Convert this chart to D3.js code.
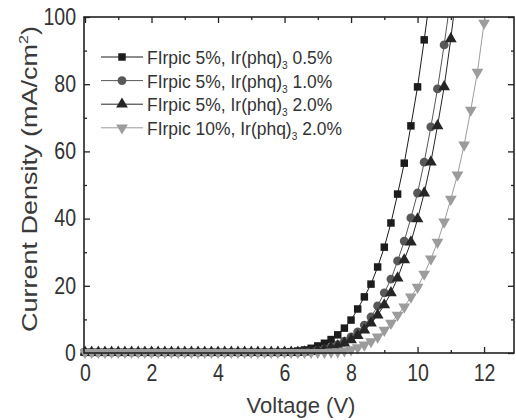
<!DOCTYPE html>
<html>
<head>
<meta charset="utf-8">
<script src="https://cdn.jsdelivr.net/npm/d3@7"></script>
<style>
  body { margin: 0; background: #fff; }
  text { font-family: "Liberation Sans", Arial, sans-serif; }
</style>
</head>
<body>
<div id="chart"></div>
<script>
// DATA ===========================================================================================
const voltage = [0, 0.2, 0.4, 0.6, 0.8, 1, 1.2, 1.4, 1.6, 1.8, 2, 2.2, 2.4, 2.6, 2.8, 3, 3.2, 3.4, 3.6, 3.8,
  4, 4.2, 4.4, 4.6, 4.8, 5, 5.2, 5.4, 5.6, 5.8, 6, 6.2, 6.4, 6.6, 6.8, 7, 7.2, 7.4, 7.6, 7.8,
  8, 8.2, 8.4, 8.6, 8.8, 9, 9.2, 9.4, 9.6, 9.8, 10, 10.2, 10.4, 10.6, 10.8, 11, 11.2, 11.4, 11.6, 11.8,
  12, 12.2]

// current density (mA/cm2), one value per voltage step
const ir05 = [0.2, 0.2, 0.2, 0.2, 0.2, 0.2, 0.2, 0.2, 0.2, 0.2, 0.2, 0.2, 0.2, 0.2, 0.2, 0.2, 0.2, 0.2, 0.2, 0.2,
  0.2, 0.2, 0.2, 0.2, 0.2, 0.2, 0.2, 0.2, 0.2, 0.2, 0.3, 0.4, 0.6, 0.9, 1.4, 2.1, 2.9, 4.0, 5.4, 7.4,
  9.8, 13.1, 16.7, 20.5, 25.6, 31.5, 38.7, 47.3, 56.5, 67.6, 79.2, 93.2, 108]
const ir10 = [0.2, 0.2, 0.2, 0.2, 0.2, 0.2, 0.2, 0.2, 0.2, 0.2, 0.2, 0.2, 0.2, 0.2, 0.2, 0.2, 0.2, 0.2, 0.2, 0.2,
  0.2, 0.2, 0.2, 0.2, 0.2, 0.2, 0.2, 0.2, 0.2, 0.2, 0.2, 0.2, 0.2, 0.35, 0.5, 0.8, 1.2, 1.8, 2.5, 3.5,
  4.8, 6.3, 8.3, 10.7, 14, 17.9, 22, 27.4, 33.3, 40.2, 47.6, 56.8, 67.3, 78.6, 91.7, 106]
const ir20 = [0.2, 0.2, 0.2, 0.2, 0.2, 0.2, 0.2, 0.2, 0.2, 0.2, 0.2, 0.2, 0.2, 0.2, 0.2, 0.2, 0.2, 0.2, 0.2, 0.2,
  0.2, 0.2, 0.2, 0.2, 0.2, 0.2, 0.2, 0.2, 0.2, 0.2, 0.2, 0.2, 0.2, 0.3, 0.45, 0.7, 1.0, 1.5, 2.1, 2.9,
  3.9, 5.2, 6.8, 8.9, 11.3, 14.3, 17.9, 22.3, 27.7, 33, 39.9, 47.6, 56.8, 67.6, 79.2, 93.5, 110]
const firpic10 = [0.2, 0.2, 0.2, 0.2, 0.2, 0.2, 0.2, 0.2, 0.2, 0.2, 0.2, 0.2, 0.2, 0.2, 0.2, 0.2, 0.2, 0.2, 0.2, 0.2,
  0.2, 0.2, 0.2, 0.2, 0.2, 0.2, 0.2, 0.2, 0.2, 0.2, 0.2, 0.2, 0.2, 0.2, 0.2, 0.2, 0.2, 0.3, 0.4, 0.65,
  1.0, 1.6, 2.4, 3.4, 4.8, 6.8, 8.9, 11.3, 13.7, 16.7, 19.6, 23.5, 28, 33, 39, 45.8, 53, 61.9, 72.3, 83.6,
  98.2, 116]

const seriesNames = ['FIrpic 5%, Ir(phq)|3| 0.5%', 'FIrpic 5%, Ir(phq)|3| 1.0%',
  'FIrpic 5%, Ir(phq)|3| 2.0%', 'FIrpic 10%, Ir(phq)|3| 2.0%']
const seriesValues = [ir05, ir10, ir20, firpic10]
const xTicks = [0, 2, 4, 6, 8, 10, 12]
const yTicks = [0, 20, 40, 60, 80, 100]

// SET UP =========================================================================================
const width = 516
const height = 420
const styles = [
  {color: '#1c1c1c', symbol: d3.symbolSquare, size: 56, rot: 0},
  {color: '#585858', symbol: d3.symbolCircle, size: 62, rot: 0},
  {color: '#262626', symbol: d3.symbolTriangle, size: 60, rot: 0},
  {color: '#9c9c9c', symbol: d3.symbolTriangle, size: 60, rot: 180}
]

const svg = d3.select('#chart')
  .append('svg')
  .attr('width', width)
  .attr('height', height)

// SCALES AND AXES ================================================================================
const x = d3.scaleLinear().domain([-0.03, 12.9]).range([84, 514])
const y = d3.scaleLinear().domain([0, 100]).range([353, 17])

const tickFont = 23, sx = 0.85

svg.append('g')
  .attr('transform', `translate(0, ${y(0)})`)
  .call(d3.axisBottom(x).tickValues(xTicks).tickSize(-6).tickSizeOuter(0).tickPadding(12))
  .call(g => g.select('.domain').remove())
  .call(g => g.selectAll('text').attr('font-size', tickFont).attr('fill', '#333')
    .attr('transform', `scale(${sx},1)`))
svg.append('g')
  .attr('transform', `translate(0, ${y(0)})`)
  .call(d3.axisBottom(x).tickValues([1, 3, 5, 7, 9, 11]).tickSize(-3).tickFormat(''))
  .call(g => g.select('.domain').remove())
svg.append('g')
  .attr('transform', `translate(0, ${y(100)})`)
  .call(d3.axisTop(x).tickValues(xTicks).tickSize(-6).tickFormat(''))
  .call(g => g.select('.domain').remove())
svg.append('g')
  .attr('transform', `translate(0, ${y(100)})`)
  .call(d3.axisTop(x).tickValues([1, 3, 5, 7, 9, 11]).tickSize(-3).tickFormat(''))
  .call(g => g.select('.domain').remove())

svg.append('g')
  .attr('transform', `translate(${x.range()[0]}, 0)`)
  .call(d3.axisLeft(y).tickValues(yTicks).tickSize(-6).tickSizeOuter(0).tickPadding(7))
  .call(g => g.select('.domain').remove())
  .call(g => g.selectAll('text').attr('font-size', tickFont).attr('fill', '#333')
    .attr('x', -8 / sx).attr('transform', `scale(${sx},1)`))
svg.append('g')
  .attr('transform', `translate(${x.range()[0]}, 0)`)
  .call(d3.axisLeft(y).tickValues([10, 30, 50, 70, 90]).tickSize(-3).tickFormat(''))
  .call(g => g.select('.domain').remove())
svg.append('g')
  .attr('transform', `translate(${x.range()[1]}, 0)`)
  .call(d3.axisRight(y).tickValues(yTicks).tickSize(-6).tickFormat(''))
  .call(g => g.select('.domain').remove())
svg.append('g')
  .attr('transform', `translate(${x.range()[1]}, 0)`)
  .call(d3.axisRight(y).tickValues([10, 30, 50, 70, 90]).tickSize(-3).tickFormat(''))
  .call(g => g.select('.domain').remove())

svg.selectAll('.tick line').attr('stroke', '#222').attr('stroke-width', 1.3)

// MARKS ==========================================================================================
svg.append('clipPath').attr('id', 'clip')
  .append('rect').attr('x', 80).attr('y', y(100)).attr('width', 434).attr('height', 345)

const plot = svg.append('g').attr('clip-path', 'url(#clip)')

seriesValues.forEach((vals, k) => {
  const st = styles[k]
  const pts = vals.map((v, i) => ({v: voltage[i], j: v}))
  plot.append('path')
    .datum(pts)
    .attr('fill', 'none')
    .attr('stroke', st.color)
    .attr('stroke-width', 1)
    .attr('d', d3.line().x(d => x(d.v)).y(d => y(d.j)))
  plot.selectAll(null)
    .data(pts)
    .join('path')
    .attr('transform', d => `translate(${x(d.v)}, ${y(d.j)}) rotate(${st.rot})`)
    .attr('d', d3.symbol().type(st.symbol).size(st.size))
    .attr('fill', st.color)
})

// frame
svg.append('rect')
  .attr('x', x.range()[0]).attr('y', y(100))
  .attr('width', x.range()[1] - x.range()[0]).attr('height', y(0) - y(100))
  .attr('fill', 'none').attr('stroke', '#222').attr('stroke-width', 1.6)

// LEGEND =========================================================================================
const legend = svg.append('g')
seriesNames.forEach((name, k) => {
  const st = styles[k]
  const ry = 57 + k * 23.6
  legend.append('line')
    .attr('x1', 101).attr('x2', 143).attr('y1', ry).attr('y2', ry)
    .attr('stroke', st.color).attr('stroke-width', 1)
  legend.append('path')
    .attr('transform', `translate(122, ${ry}) rotate(${st.rot})`)
    .attr('d', d3.symbol().type(st.symbol).size(st.size))
    .attr('fill', st.color)
  const parts = name.split('|')
  const t = legend.append('text')
    .attr('transform', `translate(147, ${ry + 7}) scale(0.92,1)`)
    .attr('font-size', 19).attr('fill', '#333')
  t.append('tspan').text(parts[0])
  t.append('tspan').attr('font-size', 11).attr('dy', 5).text(parts[1])
  t.append('tspan').attr('dy', -5).text(parts[2])
})

// AXIS TITLES ====================================================================================
svg.append('text')
  .attr('x', 301).attr('y', 413)
  .attr('text-anchor', 'middle')
  .attr('font-size', 22).attr('fill', '#3a3a3a')
  .text('Voltage (V)')

const yt = svg.append('text')
  .attr('transform', 'translate(37, 179) rotate(-90) scale(1,0.8)')
  .attr('text-anchor', 'middle')
  .attr('font-size', 27).attr('fill', '#3a3a3a')
yt.append('tspan').text('Current Density (mA/cm')
yt.append('tspan').attr('font-size', 16).attr('dy', -11).text('2')
yt.append('tspan').attr('dy', 11).text(')')
</script>
</body>
</html>
